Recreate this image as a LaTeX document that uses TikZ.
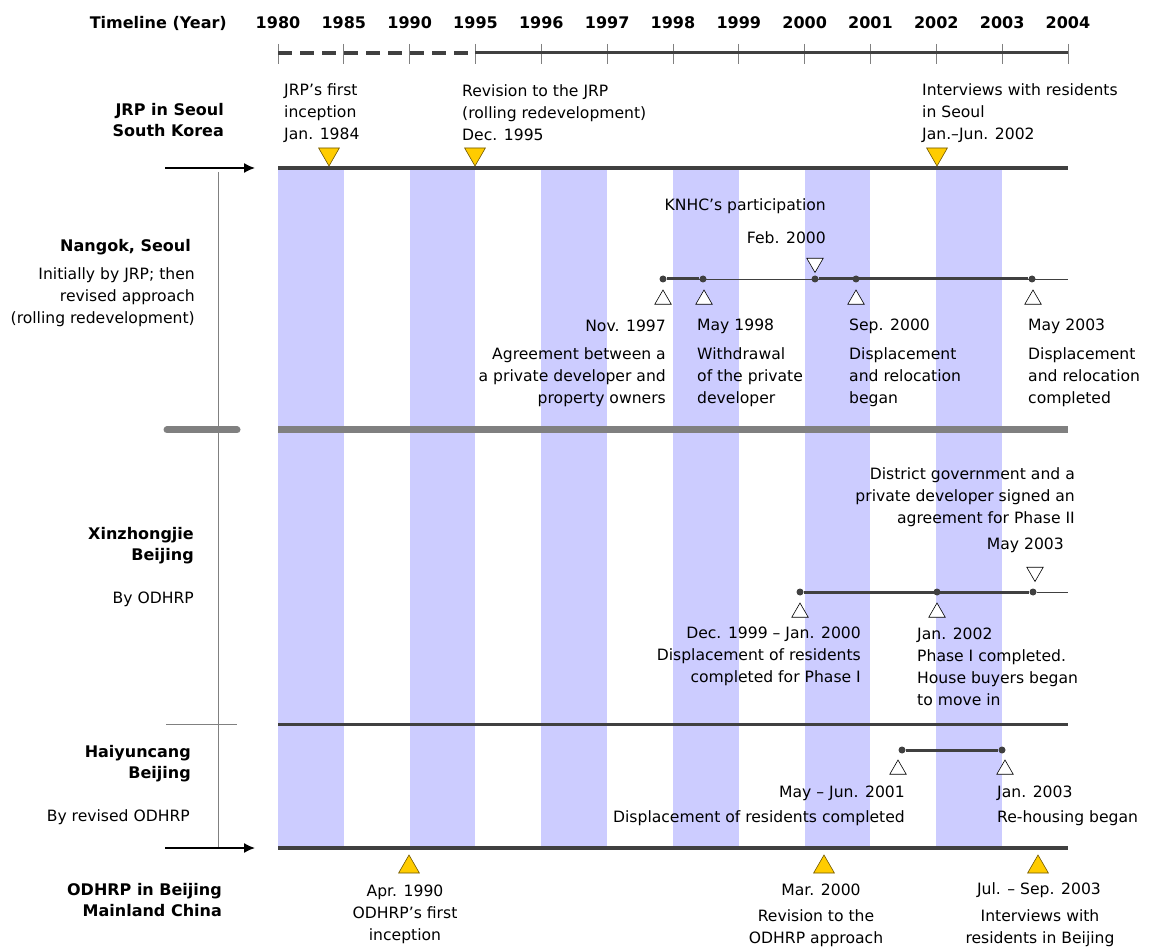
\documentclass[tikz,border=0pt]{standalone}
\usepackage{fontspec}
\setmainfont{DejaVu Sans}
\usetikzlibrary{arrows, arrows.meta, positioning, shapes.geometric}
\definecolor{band}{RGB}{204,204,255}
\definecolor{dline}{RGB}{64,64,64}
\definecolor{gline}{RGB}{128,128,128}
\definecolor{myyellow}{RGB}{255,204,0}
\definecolor{myedge}{RGB}{110,85,0}

\begin{document}
\begin{tikzpicture}[x=1pt,y=-1pt,>=stealth',
  txt/.style={font=\fontsize{15.6}{22}\selectfont,inner sep=0pt},
  lab/.style={font=\bfseries\fontsize{16}{21}\selectfont,inner sep=0pt,align=right,anchor=east},
  dot/.style={circle,fill=dline,inner sep=0pt,minimum size=7pt},
  ytri/.style={regular polygon,regular polygon sides=3,fill=myyellow,draw=myedge,line width=0.6pt,inner sep=0pt,minimum size=24pt},
  wtri/.style={regular polygon,regular polygon sides=3,fill=white,draw=black,line width=0.6pt,inner sep=0pt,minimum size=19pt},
  flip/.style={shape border rotate=180},
  lead/.style={-{Latex[length=11pt,width=10pt]},line width=1.5pt},
  tl/.style={dline,line width=3.5pt},
  seg/.style={dline,line width=3pt},
  fine/.style={dline,line width=0.9pt}]
\useasboundingbox[fill=white] (0,0) rectangle (1152,949);

\foreach \i in {0,2,...,10}
  \fill[band] ({278+65.83*\i},170) rectangle ({278+65.83*(\i+1)},848);

\node[lab] (hdr) at (227,23) {Timeline (Year)};
\foreach \yr [count=\i from 0] in {1980,1985,1990,1995,1996,1997,1998,1999,2000,2001,2002,2003,2004}{
  \node[lab,anchor=center] (y\i) at ({278+65.83*\i},23) {\yr};
  \draw[gline,line width=0.8pt] ({278+65.83*\i},44) -- ({278+65.83*\i},64);
}
\coordinate (a0) at (278,53);
\coordinate (a3) at (475,53);
\coordinate (a12) at (1068,53);
\draw[dline,line width=4.5pt,dash pattern=on 14pt off 8pt] (a0) -- (a3);
\draw[dline,line width=3pt] (a3) -- (a12);

% JRP
\coordinate (jl) at (278,168);
\coordinate (jr) at (1068,168);
\coordinate (ja) at (165,168);
\coordinate (jb) at (255,168);
\draw[tl] (jl) -- (jr);
\draw[lead] (ja) -- (jb);
\coordinate (vt) at (218,172);
\coordinate (vb) at (218,848);
\draw[gline,line width=0.8pt] (vt) -- (vb);
\node[lab] (jrp) at (224,120) {JRP in Seoul\\South Korea};
\node[ytri,flip] (jm1) at (329,154) {};
\node[ytri,flip] (jm2) at (475,154) {};
\node[ytri,flip] (jm3) at (937,154) {};
\node[txt,anchor=west,align=left] (jt1) at (284,113) {JRP's first\\inception\\Jan. 1984};
\node[txt,anchor=west,align=left] (jt2) at (462,113) {Revision to the JRP\\(rolling redevelopment)\\Dec. 1995};
\node[txt,anchor=west,align=left] (jt3) at (922,113) {Interviews with residents\\in Seoul\\Jan.--Jun. 2002};

% Nangok
\node[lab] (nan) at (191,247) {Nangok, Seoul};
\node[txt,anchor=east,align=right] (nanb) at (195,297) {Initially by JRP; then\\revised approach\\(rolling redevelopment)};
\node[dot] (n1) at (663,279) {};
\node[dot] (n2) at (703,279) {};
\node[dot] (n3) at (815,279) {};
\node[dot] (n4) at (856,279) {};
\node[dot] (n5) at (1032,279) {};
\coordinate (ne) at (1068,279);
\draw[fine] (n1) -- (ne);
\draw[seg] (n1) -- (n2);
\draw[seg] (n3) -- (n5);
\node[wtri] (nt1) at (663,299.5) {};
\node[wtri] (nt2) at (704,299.5) {};
\node[wtri,flip] (nt3) at (815,263) {};
\node[wtri] (nt4) at (856,299.5) {};
\node[wtri] (nt5) at (1033,299.5) {};
\node[txt,anchor=east] (knhc) at (826,206) {KNHC's participation};
\node[txt,anchor=east] (knhcd) at (826,238) {Feb. 2000};
\node[txt,anchor=east] (nd1) at (666,326) {Nov. 1997};
\node[txt,anchor=east,align=right] (nx1) at (666,377) {Agreement between a\\a private developer and\\property owners};
\node[txt,anchor=west] (nd2) at (697,326) {May 1998};
\node[txt,anchor=west,align=left] (nx2) at (697,377) {Withdrawal\\of the private\\developer};
\node[txt,anchor=west] (nd4) at (849,326) {Sep. 2000};
\node[txt,anchor=west,align=left] (nx4) at (849,377) {Displacement\\and relocation\\began};
\node[txt,anchor=west] (nd5) at (1028,326) {May 2003};
\node[txt,anchor=west,align=left] (nx5) at (1028,377) {Displacement\\and relocation\\completed};

\coordinate (sl) at (278,430);
\coordinate (sr) at (1068,430);
\coordinate (sa) at (167,430);
\coordinate (sb) at (237,430);
\draw[gline,line width=7pt] (sl) -- (sr);
\draw[gline,line width=7pt,line cap=round] (sa) -- (sb);

% Xinzhongjie
\node[lab] (xin) at (194,546) {Xinzhongjie\\Beijing};
\node[txt,anchor=east] (xinb) at (194,599) {By ODHRP};
\node[dot] (x1) at (800,592) {};
\node[dot] (x2) at (937,592) {};
\node[dot] (x3) at (1033,592) {};
\coordinate (xe) at (1068,592);
\draw[seg] (x1) -- (x3);
\draw[fine] (x3) -- (xe);
\node[wtri] (xt1) at (800,612.5) {};
\node[wtri] (xt2) at (937,612.5) {};
\node[wtri,flip] (xt3) at (1035,572) {};
\node[txt,anchor=east,align=right] (xag) at (1075,497) {District government and a\\private developer signed an\\agreement for Phase II};
\node[txt,anchor=east] (xagd) at (1064,545) {May 2003};
\node[txt,anchor=east,align=right] (xd1) at (861,656) {Dec. 1999 -- Jan. 2000\\Displacement of residents\\completed for Phase I};
\node[txt,anchor=west,align=left] (xd2) at (917,667) {Jan. 2002\\Phase I completed.\\House buyers began\\to move in};

\coordinate (hl) at (278,724);
\coordinate (hr) at (1068,724);
\coordinate (ha) at (166,724);
\coordinate (hb) at (237,724);
\draw[seg] (hl) -- (hr);
\draw[gline,line width=0.8pt] (ha) -- (hb);

% Haiyuncang
\node[lab] (hai) at (191,764) {Haiyuncang\\Beijing};
\node[txt,anchor=east] (haib) at (190,817) {By revised ODHRP};
\node[dot] (h1) at (902,750) {};
\node[dot] (h2) at (1002,750) {};
\draw[seg] (h1) -- (h2);
\node[wtri] (ht1) at (898,769.5) {};
\node[wtri] (ht2) at (1005,769.5) {};
\node[txt,anchor=east] (hd1) at (905,793) {May -- Jun. 2001};
\node[txt,anchor=east] (hx1) at (905,818) {Displacement of residents completed};
\node[txt,anchor=west] (hd2) at (997,793) {Jan. 2003};
\node[txt,anchor=west] (hx2) at (997,818) {Re-housing began};

% ODHRP
\coordinate (ol) at (278,848);
\coordinate (or) at (1068,848);
\coordinate (oa) at (165,848);
\coordinate (ob) at (255,848);
\draw[tl] (ol) -- (or);
\draw[lead] (oa) -- (ob);
\node[lab] (odh) at (222,900) {ODHRP in Beijing\\Mainland China};
\node[ytri] (om1) at (409,867) {};
\node[ytri] (om2) at (824,867) {};
\node[ytri] (om3) at (1038,867) {};
\node[txt,align=center] (ot1) at (405,914) {Apr. 1990\\ODHRP's first\\inception};
\node[txt] (od2) at (821,890) {Mar. 2000};
\node[txt,align=center] (ot2) at (816,928) {Revision to the\\ODHRP approach};
\node[txt] (od3) at (1039,890) {Jul. -- Sep. 2003};
\node[txt,align=center] (ot3) at (1040,928) {Interviews with\\residents in Beijing};
\end{tikzpicture}
\end{document}
